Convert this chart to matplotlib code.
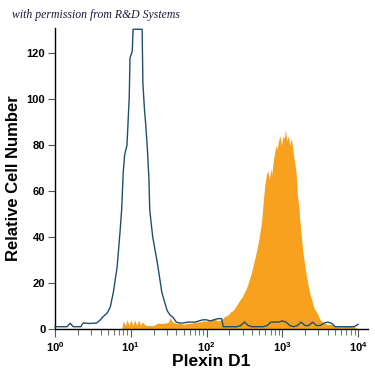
import matplotlib
matplotlib.use("Agg")
import matplotlib.pyplot as plt
import numpy as np

# Isotype control (blue outline), x given as log10 of fluorescence
blue_logx = [0.00, 0.10, 0.16, 0.20, 0.24, 0.34, 0.37, 0.46, 0.55, 0.60, 0.63, 0.69,
             0.73, 0.77, 0.82, 0.86, 0.88, 0.90, 0.92, 0.95, 0.98, 0.99, 1.02, 1.03,
             1.15, 1.16, 1.18, 1.20, 1.22, 1.24, 1.25, 1.29, 1.35, 1.41, 1.48, 1.52,
             1.56, 1.60, 1.65, 1.70, 1.75, 1.80, 1.85, 1.90, 1.95, 2.00, 2.05, 2.10,
             2.15, 2.20, 2.22, 2.25, 2.30, 2.35, 2.40, 2.45, 2.50, 2.55, 2.60, 2.65,
             2.70, 2.75, 2.80, 2.85, 2.90, 2.95, 3.00, 3.05, 3.10, 3.15, 3.20, 3.25,
             3.30, 3.35, 3.40, 3.45, 3.50, 3.55, 3.60, 3.65, 3.70, 3.75, 3.80, 3.85,
             3.90, 3.95, 4.00]
blue_counts = [1, 1, 1, 2.5, 1, 1, 2.6, 2.4, 2.6, 4, 5.2, 7,
               9.6, 16, 27, 43, 52, 68, 76, 80, 101, 118, 121, 130.5,
               130.5, 107, 96, 88, 78, 65, 52, 40, 29, 16, 8, 6,
               5, 3, 2.6, 2.6, 3, 3, 3, 3.5, 4, 4, 3.5, 4,
               4.5, 4.5, 1, 1, 1, 1, 1, 1.5, 3, 1.5, 1, 1,
               1, 1, 1.5, 3, 3, 3, 3.5, 3, 1.5, 1, 1.5, 3,
               1.5, 1.5, 3, 1.5, 1.5, 2.5, 3, 2.5, 1, 1, 1, 1,
               1, 1, 2]

# Plexin D1 stained (orange filled)
orange_logx = [0.88, 0.90, 0.93, 0.95, 0.98, 1.00, 1.03, 1.05, 1.08, 1.10, 1.13, 1.15,
               1.20, 1.25, 1.30, 1.35, 1.40, 1.45, 1.50, 1.52, 1.55, 1.60, 1.65, 1.70,
               1.75, 1.80, 1.85, 1.90, 1.95, 2.00, 2.05, 2.10, 2.15, 2.20, 2.24, 2.28,
               2.32, 2.35, 2.38, 2.41, 2.44, 2.47, 2.50, 2.53, 2.56, 2.59, 2.61, 2.64,
               2.66, 2.68, 2.70, 2.72, 2.73, 2.75, 2.77, 2.79, 2.81, 2.83, 2.85, 2.86,
               2.88, 2.90, 2.92, 2.93, 2.95, 2.97, 2.99, 3.01, 3.03, 3.04, 3.06, 3.08,
               3.10, 3.12, 3.13, 3.14, 3.16, 3.18, 3.19, 3.20, 3.22, 3.23, 3.25, 3.27,
               3.30, 3.33, 3.36, 3.39, 3.42, 3.46, 3.50, 3.55, 3.60, 3.65, 3.70, 3.75,
               3.80, 3.85, 3.90, 3.95, 4.00]
orange_counts = [0, 3.5, 1.5, 4, 1.5, 4, 1.5, 4, 1.5, 4, 1.5, 3,
                 1.5, 1.5, 1.5, 2.5, 2.5, 2.5, 3, 5, 3, 2.5, 2.5, 2,
                 2.5, 2.5, 3, 3, 3.5, 3.5, 4, 4.5, 3.5, 4, 5.5, 6,
                 7.5, 8, 9.5, 11, 12.6, 14, 16, 18, 21, 24, 27, 31,
                 34, 37, 41, 45, 48, 56, 63, 67, 69, 65, 70, 67,
                 73, 77, 80, 78, 82, 84, 80, 84, 83, 87, 82, 84,
                 80, 83, 81, 78, 73, 69, 65, 58, 53, 48, 41, 34,
                 27, 21, 16, 12.6, 9, 7, 4, 2.5, 2, 2, 1.5, 1,
                 1, 1.5, 1, 1, 0]

y_ticks = [0, 20, 40, 60, 80, 100, 120]
x_ticks = [1, 10, 100, 1000, 10000]

fig = plt.figure(figsize=(3.75, 3.75), dpi=100)
ax = fig.add_axes([0.1467, 0.1227, 0.8343, 0.8023])

ox = 10 ** np.array(orange_logx)
ax.fill_between(ox, 0, orange_counts, color="#F7A11E", linewidth=0, zorder=2)
bx = 10 ** np.array(blue_logx)
ax.plot(bx, blue_counts, color="#1F4F6B", linewidth=1.0, zorder=3, clip_on=False)

ax.set_xscale("log")
ax.set_xlim(1, 10 ** 4.13)
ax.set_ylim(0, 131)
ax.set_xticks(x_ticks)
ax.set_yticks(y_ticks)
for s in ["top", "right"]:
    ax.spines[s].set_visible(False)
for s in ["left", "bottom"]:
    ax.spines[s].set_linewidth(1.0)
ax.tick_params(axis="y", which="major", length=5, width=0.8, color="#555555", pad=2)
ax.tick_params(axis="x", which="major", length=6, width=0.8, color="#555555", pad=2)
ax.tick_params(axis="x", which="minor", length=4, width=0.8, color="#777777")
for lbl in ax.get_yticklabels() + ax.get_xticklabels():
    lbl.set_fontfamily("Liberation Sans")
    lbl.set_fontsize(8)
    lbl.set_fontweight("bold")

ax.set_ylabel("Relative Cell Number", fontsize=12, fontweight="bold",
              family="Liberation Sans", labelpad=4)
ax.set_xlabel("Plexin D1", fontsize=12.5, fontweight="bold",
              family="Liberation Sans", labelpad=0)

fig.text(0.032, 0.953, "with permission from R&D Systems", fontsize=8.5,
         style="italic", family="Liberation Serif", color="#1a1a3a")

fig.savefig("out.png", dpi=100)
